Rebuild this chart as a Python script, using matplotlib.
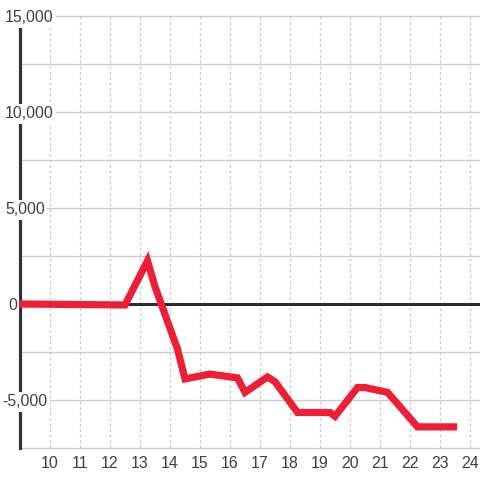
import matplotlib
matplotlib.use("Agg")
import matplotlib.pyplot as plt
from matplotlib.transforms import blended_transform_factory, offset_copy

# ---- data ----
x_vals = [9.0, 12.5, 13.25, 13.5, 14.25, 14.5, 15.33, 16.25, 16.5, 17.25, 17.5,
          18.25, 19.33, 19.5, 20.25, 20.5, 21.25, 22.25, 23.45]
y_vals = [0, -50, 2250, 900, -2350, -3900, -3650, -3850, -4600, -3800, -4050,
          -5650, -5650, -5850, -4350, -4350, -4600, -6400, -6400]
y_ticks = [-5000, 0, 5000, 10000, 15000]
y_tick_labels = ["-5,000", "0", "5,000", "10,000", "15,000"]
y_grid = [-7500, -5000, -2500, 0, 2500, 5000, 7500, 10000, 12500, 15000]
x_ticks = list(range(10, 25))
x_tick_labels = [str(v) for v in x_ticks]

plt.rcParams['font.family'] = ['Liberation Sans', 'DejaVu Sans']

W, H = 480, 480
fig = plt.figure(figsize=(4.8, 4.8), dpi=100)
fig.patch.set_facecolor('white')
ax = fig.add_axes([20 / W, (H - 448) / H, 460 / W, (448 - 16) / H])
ax.set_xlim(9, 9 + 460 / 30)
ax.set_ylim(-7500, 15000)
for s in ax.spines.values():
    s.set_visible(False)
ax.set_xticks([])
ax.set_yticks([])

# gridlines
for g in y_grid:
    ax.axhline(g, color='#cccccc', lw=1.0, zorder=1, clip_on=False)
for xv in x_ticks:
    ax.axvline(xv, color='#c8c8c8', lw=0.9, ls=(0, (2.2, 2.2)), zorder=1, clip_on=False)

# zero line
ax.axhline(0, color='#2b2b2b', lw=2.2, zorder=2, clip_on=False)
# left spine
ax.axvline(9, color='#333333', lw=2.3, zorder=3, clip_on=False)

# series
ax.plot(x_vals, y_vals, color='#ed1f36', lw=5.2, solid_joinstyle='miter',
        solid_capstyle='projecting', zorder=4, clip_on=False)

# y tick labels
tr = offset_copy(blended_transform_factory(fig.transFigure, ax.transData),
                 fig=fig, x=0, y=-1.2, units='points')
for v, lab in zip(y_ticks, y_tick_labels):
    xp = 2 if lab.startswith('-') else (8 if lab == '0' else 5)
    ax.text(xp / W, v, lab, transform=tr, ha='left', va='center',
            fontsize=11.4, color='#3f3f3f', zorder=5, clip_on=False,
            bbox=dict(boxstyle='square,pad=0.15', fc='white', ec='none'))

# x tick labels
trx = blended_transform_factory(ax.transData, fig.transFigure)
for v, lab in zip(x_ticks, x_tick_labels):
    ax.text(v, (H - 463) / H, lab, transform=trx, ha='center', va='center',
            fontsize=11.4, color='#3f3f3f', clip_on=False)

fig.savefig('out.png', dpi=100, facecolor='white')
